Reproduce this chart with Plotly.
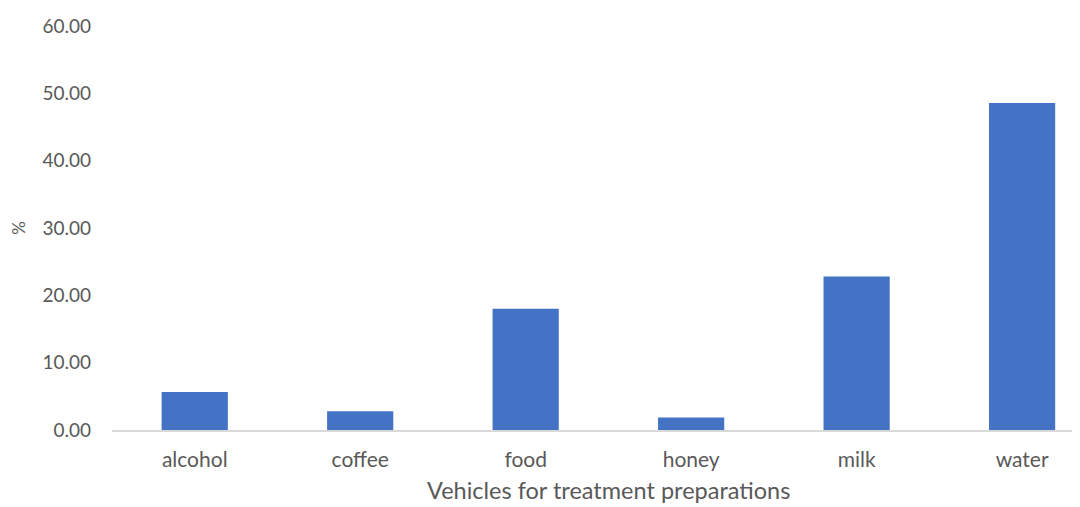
import plotly.graph_objects as go

categories = ["alcohol", "coffee", "food", "honey", "milk", "water"]
values = [5.65, 2.80, 18.0, 1.85, 22.80, 48.55]
y_ticks = [0, 10, 20, 30, 40, 50, 60]
y_tick_labels = ["0.00", "10.00", "20.00", "30.00", "40.00", "50.00", "60.00"]
x_title = "Vehicles for treatment preparations"

font_family = "Lato, Open Sans, sans-serif"
grey = "#595959"

fig = go.Figure(go.Bar(x=categories, y=values, marker_color="#4472C4",
                       marker_line_width=0, width=0.4))

fig.update_layout(
    width=1072, height=499,
    margin=dict(l=104, r=0, t=18, b=77),
    paper_bgcolor="white", plot_bgcolor="white",
    showlegend=False,
    font=dict(family=font_family, color=grey, size=18),
    xaxis=dict(
        range=[-0.5, 5.35], automargin=False,
        showline=True, linecolor="#d9d9d9", linewidth=1.5,
        ticks="", showgrid=False,
        tickfont=dict(size=21, color=grey),
        ticklabelstandoff=10,
    ),
    yaxis=dict(
        range=[0, 60], automargin=False,
        tickvals=y_ticks, ticktext=y_tick_labels,
        showline=False, showgrid=False, zeroline=False, ticks="",
        tickfont=dict(size=19, color=grey),
        ticklabelstandoff=20,
        title=dict(text="%", font=dict(size=17, color=grey), standoff=12),
    ),
    annotations=[dict(
        text=x_title, xref="paper", yref="paper", x=0.5124, y=0,
        xanchor="center", yanchor="middle", yshift=-60, showarrow=False,
        borderpad=0, font=dict(size=23.5, color=grey),
    )],
)

fig.write_html("out.html")
